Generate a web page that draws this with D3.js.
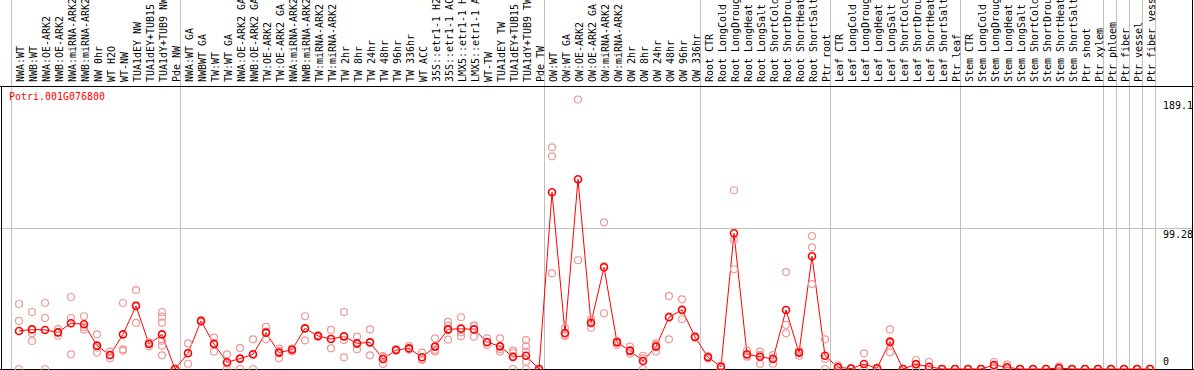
<!DOCTYPE html>
<html>
<head>
<meta charset="utf-8">
<script src="https://cdn.jsdelivr.net/npm/d3@7"></script>
<style>
  body { margin: 0; background: #fff; }
  text { font-family: 'DejaVu Sans Mono', monospace; font-size: 11px; }
</style>
</head>
<body>
<svg width="1194" height="370"></svg>
<script>
// sample groups, one gridline before each
const groups = [
    ['NWA:WT', 'NWB:WT', 'NWA:OE-ARK2', 'NWB:OE-ARK2', 'NWA:miRNA-ARK2', 'NWB:miRNA-ARK2', 'NW 0hr', 'WT H2O', 'WT-NW',
     'TUA1dEY NW', 'TUA1dEY+TUB15 NW', 'TUA1dY+TUB9 NW', 'Pde NW'],
    ['NWA:WT GA', 'NWBWT GA', 'TW:WT', 'TW:WT GA', 'NWA:OE-ARK2 GA', 'NWB:OE-ARK2 GA', 'TW:OE-ARK2', 'TW:OE-ARK2 GA',
     'NWA:miRNA-ARK2 GA', 'NWB:miRNA-ARK2 GA', 'TW:miRNA-ARK2', 'TW:miRNA-ARK2 GA', 'TW 2hr', 'TW 8hr', 'TW 24hr',
     'TW 48hr', 'TW 96hr', 'TW 336hr', 'WT ACC', '35S::etr1-1 H2O', '35S::etr1-1 ACC', 'LMX5::etr1-1 H2O',
     'LMX5::etr1-1 ACC', 'WT-TW', 'TUA1dEY TW', 'TUA1dEY+TUB15 TW', 'TUA1dY+TUB9 TW', 'Pde TW'],
    ['OW:WT', 'OW:WT GA', 'OW:OE-ARK2', 'OW:OE-ARK2 GA', 'OW:miRNA-ARK2', 'OW:miRNA-ARK2 GA', 'OW 2hr', 'OW 8hr',
     'OW 24hr', 'OW 48hr', 'OW 96hr', 'OW 336hr'],
    ['Root CTR', 'Root LongCold', 'Root LongDrought', 'Root LongHeat', 'Root LongSalt', 'Root ShortCold',
     'Root ShortDrought', 'Root ShortHeat', 'Root ShortSalt', 'Ptr root'],
    ['Leaf CTR', 'Leaf LongCold', 'Leaf LongDrought', 'Leaf LongHeat', 'Leaf LongSalt', 'Leaf ShortCold',
     'Leaf ShortDrought', 'Leaf ShortHeat', 'Leaf ShortSalt', 'Ptr leaf'],
    ['Stem CTR', 'Stem LongCold', 'Stem LongDrought', 'Stem LongHeat', 'Stem LongSalt', 'Stem ShortCold',
     'Stem ShortDrought', 'Stem ShortHeat', 'Stem ShortSalt', 'Ptr shoot', 'Ptr xylem'],
    ['Ptr phloem'],
    ['Ptr fiber'],
    ['Ptr vessel'],
    ['Ptr fiber vessel']
];

const means = [
    26.7, 27.8, 27.4, 25.7, 32.1, 31.4, 16.4, 9.8, 24.3, 44.2, 17.5, 24.3, 0,
    11.0, 33.7, 17.5, 4.7, 7.3, 10.3, 25.5, 11.5, 13.5, 28.5, 23.2, 21.0, 22.9, 18.0,
    18.7, 7.0, 13.3, 14.5, 8.2, 15.7, 27.8, 28.3, 27.8, 18.9, 15.9, 8.4, 9.3, 0,
    124.0, 25.3, 133.1, 32.3, 71.4, 18.7, 12.9, 5.6, 15.7, 36.3, 41.6, 22.5,
    8.2, 1.6, 95.2, 10.3, 8.6, 7.0, 41.4, 11.5, 79.1, 9.3,
    1.2, 0.3, 3.5, 0.5, 19.2, 0, 3.3, 1.6, 0, 0,
    0, 0, 2.8, 1.2, 0, 0, 0, 0.7, 0, 0, 0,
    0, 0, 0, 0
];

const replicates = [
    [45.6, 33.7, 0], [40, 25, 19.6], [46.3, 35.8, 0], [28, 23.4, 25.7], [50.5, 35.8, 10.3], [37, 27.8, 29.5],
    [24.3, 15, 11.5], [12.2, 7.5, 9.8], [46.3, 13.8, 12.9], [55.4, 32.3, 44.9], [18.7, 15.9, 17.9],
    [40, 36.7, 32.5, 19.9, 16.4, 9.6], [0, 0, 0],
    [18, 3.7, 11.3], [33, 34.5, 33.6], [22, 12.2, 18.3], [10.3, 0, 3.8], [14.7, 0, 7.2], [20.8, 0, 10.1],
    [29.5, 20.8, 26.2], [14.3, 7.5, 12.7], [14.3, 12.2, 14], [37, 20.1, 28.4], [23.5, 22.5, 23.6],
    [27.4, 14.5, 21.1], [40, 20.3, 8.2], [22.7, 13.8, 17.5], [27.8, 9.6, 18.7], [3.5, 9, 8.5],
    [14, 12.8, 13.1], [16.1, 13.6, 13.8], [11.5, 6.8, 6.3], [21.5, 12.2, 13.4], [33, 30.4, 20.6, 27.2],
    [36.3, 22.9, 25.7], [30.2, 22.7, 30.5], [21.5, 16.8, 18.4], [21.5, 12.2, 14], [12.9, 11.5, 0, 9.2],
    [20.3, 16.1, 12.2, 5.1, 0], [0, 0, 0],
    [155.5, 149.2, 67.1], [24, 23.2, 28.7], [189.1, 76.3], [34.9, 29, 33], [102.9, 39.1, 72.2],
    [19.6, 16.8, 19.7], [15.7, 12.2, 10.8], [9.3, 0, 7.5], [18, 12.2, 16.9], [51.2, 20.8, 36.9],
    [48.9, 34.9, 41], [23, 22, 22.5],
    [9, 7.5, 8.1], [2.5, 0, 2.3], [125.4, 90.5, 70], [12.9, 8.6, 9.4], [12.2, 3.7, 9.9], [9.8, 3.7, 7.5],
    [68, 30.9, 25], [12.9, 9.3, 12.3], [93.3, 85.4, 59.6], [20.8, 0, 7.1],
    [2.5, 0.5, 0.6], [0, 0.5, 0.4], [11, 0, 0], [1, 0, 0.5], [27.8, 11.7, 18.1], [0, 0, 0],
    [6.3, 0, 3.6], [4.9, 0, 0], [0, 0, 0], [0, 0, 0],
    [0, 0, 0], [0, 0, 0], [4.9, 1.5, 2], [3, 0.5, 0], [0, 0, 0], [0, 0, 0], [0, 0, 0],
    [1.8, 0, 0.3], [0, 0, 0], [0, 0, 0], [0, 0, 0],
    [0, 0, 0], [0, 0, 0], [0, 0, 0], [0, 0, 0]
];

const yTicks = [0, 99.28, 189.1];
const yMax = 198.56;
const geneId = 'Potri.001G076800';

const labels = groups.flat();
const W = 1194, plotTop = 86, plotBottom = 369;

const xScale = d3.scaleBand().domain(d3.range(labels.length)).range([11, 1155]);
const yScale = d3.scaleLinear().domain([0, yMax]).range([plotBottom, plotTop]);
const px = i => xScale(i) + 8;

const svg = d3.select('svg');

// group boundaries
const bounds = [0];
groups.forEach(g => bounds.push(bounds[bounds.length - 1] + g.length));
const bx = b => (b < labels.length ? xScale(b) : xScale.range()[1]) + 0.5;

svg.append('line')
    .attr('x1', 0).attr('x2', W)
    .attr('y1', Math.round(yScale(99.28)) + 0.5).attr('y2', Math.round(yScale(99.28)) + 0.5)
    .attr('stroke', '#c0c0c0');

svg.selectAll('.vgrid')
    .data(bounds)
    .enter()
    .append('line')
    .classed('vgrid', true)
    .attr('x1', bx).attr('x2', bx)
    .attr('y1', 0).attr('y2', plotBottom)
    .attr('stroke', '#c0c0c0');

// frame
svg.append('line').attr('x1', 0).attr('x2', W).attr('y1', plotTop + 0.5).attr('y2', plotTop + 0.5).attr('stroke', 'black');
svg.append('line').attr('x1', 0).attr('x2', W).attr('y1', plotBottom + 0.5).attr('y2', plotBottom + 0.5).attr('stroke', 'black');
svg.append('line').attr('x1', 1.5).attr('x2', 1.5).attr('y1', plotTop).attr('y2', 370).attr('stroke', 'black');
svg.append('line').attr('x1', 1192.5).attr('x2', 1192.5).attr('y1', 0).attr('y2', 370).attr('stroke', 'black');

// column labels
svg.selectAll('.lab')
    .data(labels)
    .enter()
    .append('text')
    .classed('lab', true)
    .attr('transform', (d, i) => `translate(${px(i) + 4.5},82) rotate(-90) scale(0.906,1)`)
    .style('fill', 'black')
    .text(d => d);

// y labels
svg.selectAll('.ytick')
    .data(yTicks)
    .enter()
    .append('text')
    .classed('ytick', true)
    .attr('transform', d => `translate(1163,${Math.min(yScale(d) + 10, 365)}) scale(0.906,1)`)
    .style('fill', 'black')
    .text(d => d);

svg.append('text')
    .attr('transform', 'translate(9,100) scale(0.906,1)')
    .style('fill', 'red')
    .text(geneId);

// mean line
const line = d3.line().x((d, i) => px(i)).y(d => yScale(d));
svg.append('path')
    .attr('d', line(means))
    .attr('fill', 'none')
    .attr('stroke', 'red')
    .attr('stroke-width', 1);

// replicate points
const reps = [];
replicates.forEach((r, i) => r.forEach(v => reps.push({i: i, v: v})));
svg.selectAll('.rep')
    .data(reps)
    .enter()
    .append('circle')
    .classed('rep', true)
    .attr('cx', d => px(d.i))
    .attr('cy', d => yScale(d.v))
    .attr('r', 3.5)
    .attr('fill', 'none')
    .attr('stroke', '#ee9999')
    .attr('stroke-width', 1.2);

svg.selectAll('.mean')
    .data(means)
    .enter()
    .append('circle')
    .classed('mean', true)
    .attr('cx', (d, i) => px(i))
    .attr('cy', d => yScale(d))
    .attr('r', 3.5)
    .attr('fill', 'none')
    .attr('stroke', 'red')
    .attr('stroke-width', 1.6);
</script>
</body>
</html>
